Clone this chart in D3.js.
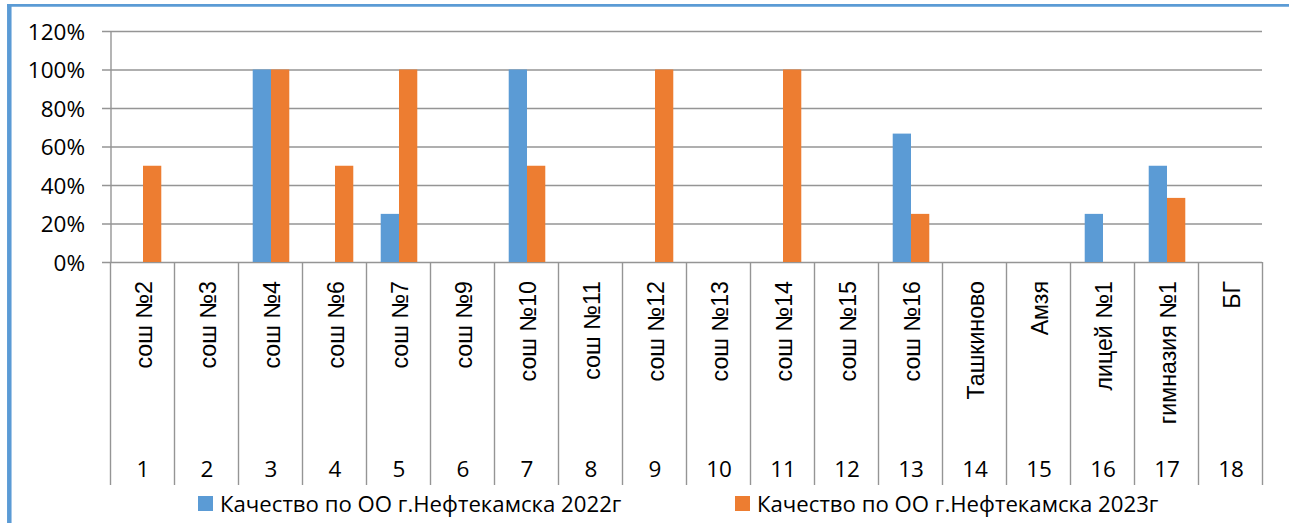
<!DOCTYPE html>
<html><head><meta charset="utf-8">
<script src="https://cdn.jsdelivr.net/npm/d3@7"></script>
<style>
html,body{margin:0;padding:0;background:#fff;overflow:hidden;}
svg{display:block;}
</style></head>
<body>
<svg id="chart" width="1289" height="523"></svg>
<script>
const categories = ["сош №2","сош №3","сош №4","сош №6","сош №7","сош №9","сош №10","сош №11","сош №12","сош №13","сош №14","сош №15","сош №16","Ташкиново","Амзя","лицей №1","гимназия №1","БГ"];
const numbers = ["1","2","3","4","5","6","7","8","9","10","11","12","13","14","15","16","17","18"];
const seriesNames = ["Качество по ОО г.Нефтекамска 2022г","Качество по ОО г.Нефтекамска 2023г"];
const values2022 = [0,0,100,0,25,0,100,0,0,0,0,0,66.7,0,0,25,50,0];
const values2023 = [50,0,100,50,100,0,50,0,100,0,100,0,25,0,0,0,33.3,0];
const yTicks = [0,20,40,60,80,100,120];
const colors = ["#5b9bd5","#ed7d31"];

(function(){
const svg = d3.select("#chart");
const pLeft = 111, pRight = 1263, pTop = 31, pBottom = 262, axisBottom = 485;
const gridColor = "#959595";
const tickFont = "'Open Sans', sans-serif";

const x0 = d3.scaleBand().domain(categories).range([pLeft, pRight]).paddingInner(0).paddingOuter(0);
const x1 = d3.scaleBand().domain([0,1]).range([0, x0.bandwidth()]).paddingInner(0).paddingOuter(0.75);
const y = d3.scaleLinear().domain([0,120]).range([pBottom, pTop]);

// border (blue frame, partly outside viewport)
svg.append("line").attr("x1",9.3).attr("x2",9.3).attr("y1",4).attr("y2",523)
  .attr("stroke","#5b9bd5").attr("stroke-width",4.5);
svg.append("line").attr("x1",7).attr("x2",1289).attr("y1",5.3).attr("y2",5.3)
  .attr("stroke","#5b9bd5").attr("stroke-width",2.8);

// gridlines + y axis
const gridW = (pRight - 1) - (pLeft - 9);
const yAxis = d3.axisLeft(y).tickValues(yTicks).tickFormat(d => d + "%").tickSize(0).tickPadding(17);
const gy = svg.append("g").attr("transform", `translate(${pLeft - 9},0)`).call(yAxis);
gy.select(".domain").remove();
gy.selectAll(".tick line").attr("stroke", gridColor).attr("stroke-width", 1.4).attr("x1", 0).attr("x2", gridW);
gy.selectAll(".tick text").attr("x", -17).attr("font-family", tickFont).attr("font-size", 22.5).attr("fill", "#000").attr("dy", "0.36em");

// y axis vertical line
svg.append("line").attr("x1",pLeft).attr("x2",pLeft).attr("y1",pTop).attr("y2",pBottom)
  .attr("stroke",gridColor).attr("stroke-width",1.4);

// bars
const data = categories.map((c,i) => ({cat:c, vals:[values2022[i], values2023[i]]}));
const groups = svg.append("g").selectAll("g").data(data).join("g")
  .attr("transform", d => `translate(${x0(d.cat)},0)`);
groups.selectAll("rect").data(d => d.vals.map((v,k) => ({v,k}))).join("rect")
  .attr("x", d => x1(d.k)).attr("width", x1.bandwidth())
  .attr("y", d => y(d.v)).attr("height", d => y(0) - y(d.v))
  .attr("fill", d => colors[d.k]);

// category dividers (multi-level axis)
const bounds = categories.map(c => x0(c)).concat([pRight]);
svg.append("g").selectAll("line").data(bounds).join("line")
  .attr("x1", d => d - 0.5).attr("x2", d => d - 0.5).attr("y1", pBottom).attr("y2", axisBottom)
  .attr("stroke", gridColor).attr("stroke-width", 1.4);

// rotated category labels
svg.append("g").selectAll("text").data(categories).join("text")
  .attr("transform", d => `translate(${x0(d) + x0.bandwidth()/2 + 9},281) rotate(-90)`)
  .attr("text-anchor","end")
  .attr("font-family","'Liberation Sans', Arial, sans-serif")
  .attr("font-size", 23.2)
  .attr("fill","#000")
  .text(d => d);

// number labels
svg.append("g").selectAll("text").data(numbers).join("text")
  .attr("x", (d,i) => x0(categories[i]) + x0.bandwidth()/2)
  .attr("y", 477)
  .attr("text-anchor","middle")
  .attr("font-family", tickFont).attr("font-size", 22.5).attr("fill","#000")
  .text(d => d);

// legend
const legendX = [198, 735];
const lg = svg.append("g").selectAll("g").data(seriesNames).join("g")
  .attr("transform", (d,i) => `translate(${legendX[i]},496)`);
lg.append("rect").attr("width",15).attr("height",15).attr("fill",(d,i)=>colors[i]);
lg.append("text").attr("x",22).attr("y",15.5)
  .attr("font-family", tickFont).attr("font-size", 22.2).attr("fill","#000")
  .text(d => d);
})();
</script>
</body></html>
